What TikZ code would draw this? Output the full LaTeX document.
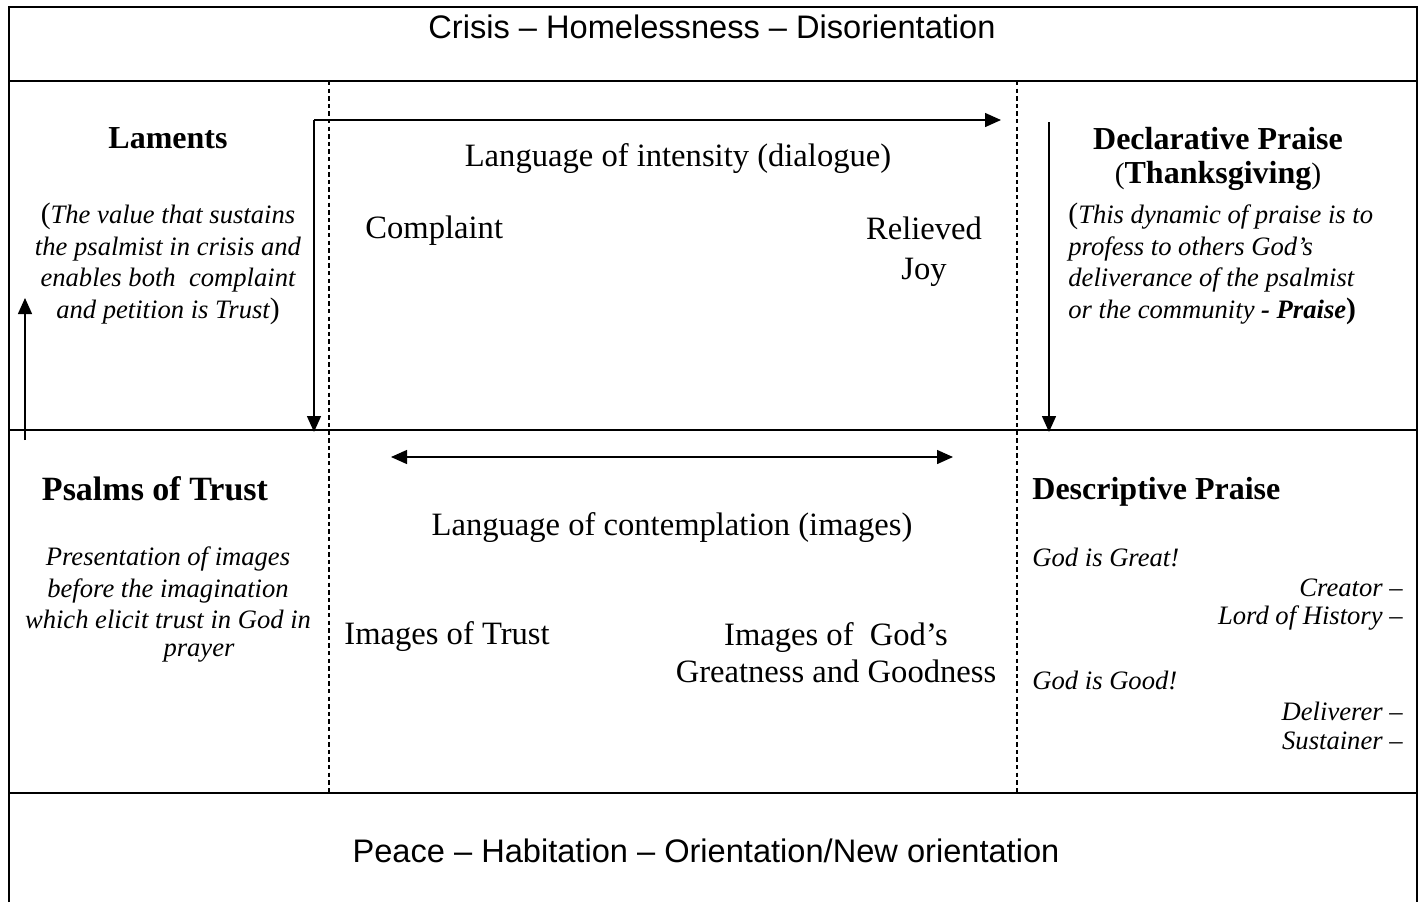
\documentclass[tikz,border=0pt]{standalone}
\usepackage{fontspec}
\setmainfont{Liberation Serif}
\newfontfamily\arialfont[Ligatures=TeX]{Liberation Sans}
\usetikzlibrary{arrows.meta}
\newcommand\plainparen[1]{{\upshape\mdseries\fontsize{14.8}{16}\selectfont #1}}
\tikzset{
  frame/.style={line width=1pt},
  divider/.style={line width=0.8pt, dash pattern=on 2.2pt off 1.6pt},
  flow/.style={line width=0.7pt, -{Triangle[length=8pt,width=7pt]}},
  heading/.style={font=\fontsize{16}{17}\selectfont\bfseries, inner sep=0pt},
  plain/.style={font=\fontsize{16.3}{20}\selectfont, inner sep=0pt},
  note/.style={font=\fontsize{13.3}{15.8}\selectfont\itshape, inner sep=0pt},
  banner/.style={font=\arialfont\fontsize{16.3}{20}\selectfont, inner sep=0pt}
}
\begin{document}
\begin{tikzpicture}[x=0.5pt,y=-0.5pt]
    \useasboundingbox (0,0) rectangle (1426,902);
    % frame and dividers
    \draw[frame] (9,902) -- (9,7) -- (1417,7) -- (1417,902);
    \draw[frame] (9,81) -- (1417,81);
    \draw[frame] (9,430) -- (1417,430);
    \draw[frame] (9,793) -- (1417,793);
    \draw[divider] (329,81) -- (329,793);
    \draw[divider] (1017,81) -- (1017,793);
    % banners
    \node[banner] (crisis) at (712,27) {Crisis – Homelessness – Disorientation};
    \node[banner] (peace) at (706,851) {Peace – Habitation – Orientation/New orientation};
    % upper row
    \node[heading] (laments) at (168,138) {Laments};
    \node[note, align=center] (lamentnote) at (168,264) {\plainparen{(}The value that sustains\\the psalmist in crisis and\\enables both~ complaint\\and petition is Trust\plainparen{)}};
    \node[plain] (intensity) at (678,159) {Language of intensity (dialogue)};
    \node[plain, anchor=west] (complaint) at (365,231) {Complaint};
    \node[plain, align=center] (relieved) at (924,252) {Relieved\\Joy};
    \node[heading, align=center] (declarative) at (1218,159) {Declarative Praise\\\plainparen{(}Thanksgiving\plainparen{)}};
    \node[note, align=left, anchor=west] (declnote) at (1068,264) {\plainparen{(}This dynamic of praise is to\\profess to others God's\\deliverance of the psalmist\\or the community \textbf{- Praise}\plainparen{\bfseries)}};
    % lower row
    \node[heading, font=\fontsize{17}{17}\selectfont\bfseries] (trust) at (155,489) {Psalms of Trust};
    \node[note, align=center] (trustnote) at (168,588) {Presentation of images\\before the imagination\\which elicit trust in God in};
    \node[note] (prayer) at (199,653) {prayer};
    \node[plain] (contemplation) at (672,528) {Language of contemplation (images)};
    \node[plain, anchor=west] (imgtrust) at (344,637) {Images of Trust};
    \node[plain, align=center, font=\fontsize{16.3}{18.5}\selectfont] (imggod) at (836,653) {Images of~ God's\\Greatness and Goodness};
    \node[heading, anchor=west] (descriptive) at (1032,492) {Descriptive Praise};
    \node[note, anchor=west] (great) at (1032,557) {God is Great!};
    \node[note, anchor=east] (creator) at (1403,588) {Creator --};
    \node[note, anchor=east] (history) at (1403,618) {Lord of History --};
    \node[note, anchor=west] (good) at (1032,680) {God is Good!};
    \node[note, anchor=east] (deliverer) at (1403,711) {Deliverer --};
    \node[note, anchor=east] (sustainer) at (1403,741) {Sustainer --};
    % arrows
    \coordinate (bend) at (314,120);
    \coordinate (bendend) at (1001,120);
    \coordinate (bendfoot) at (314,432);
    \coordinate (praisetop) at (1049,122);
    \coordinate (praisefoot) at (1049,432);
    \coordinate (trustfoot) at (25,440);
    \coordinate (trusttop) at (25,298);
    \coordinate (imgleft) at (391,457);
    \coordinate (imgright) at (953,457);
    \draw[flow] (bend) -- (bendend);
    \draw[flow] (bend) -- (bendfoot);
    \draw[flow] (praisetop) -- (praisefoot);
    \draw[flow] (trustfoot) -- (trusttop);
    \draw[flow, {Triangle[length=8pt,width=7pt]}-{Triangle[length=8pt,width=7pt]}] (imgleft) -- (imgright);
\end{tikzpicture}
\end{document}
